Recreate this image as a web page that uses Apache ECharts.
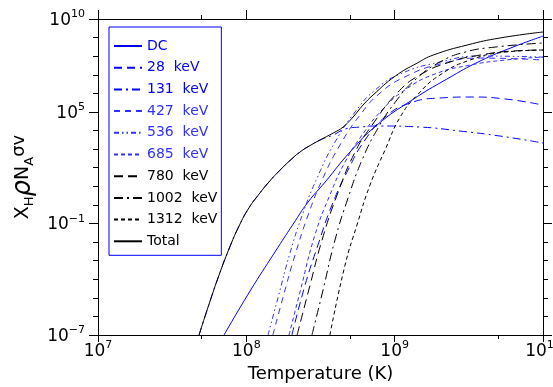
<!DOCTYPE html>
<html>
<head>
<meta charset="utf-8">
<script src="https://cdn.jsdelivr.net/npm/echarts@6/dist/echarts.min.js"></script>
<style>
html, body { margin: 0; padding: 0; background: #fff; }
#chart { width: 553px; height: 387px; }
</style>
</head>
<body>
<div id="chart"></div>
<script>
// temperatures in K, rates as plotted (X_H rho N_A <sigma v>)
const tempDC = [7.07e7, 1.06e8, 1.56e8, 2.07e8, 2.61e8, 3.40e8, 5.00e8, 7.61e8, 1.31e9, 2.25e9, 3.77e9, 6.28e9, 1.0e10]
const rateDC = [1e-7, 2.33e-5, 2.92e-3, 9.35e-2, 1.43, 17.0, 698, 1.98e4, 4.37e5, 5.89e6, 5.49e7, 3.09e8, 1.20e9]

const temp28 = [2.03e8, 2.49e8, 3.04e8, 3.78e8, 4.85e8, 6.31e8, 8.61e8, 1.27e9, 2.02e9, 3.22e9, 5.55e9, 1.0e10]
const rate28 = [1e-7, 4.90e-5, 6.93e-3, 0.984, 75.2, 3090, 5.33e4, 3.01e5, 5.62e5, 6.35e5, 4.99e5, 2.35e5]

const temp131 = [4.80e7, 5.61e7, 6.55e7, 7.64e7, 8.93e7, 1.04e8, 1.22e8, 1.42e8, 1.69e8, 1.97e8, 2.30e8, 2.69e8, 3.14e8, 3.85e8, 4.63e8, 5.84e8, 7.98e8, 1.48e9, 2.76e9, 5.14e9, 1.0e10]
const rate131 = [1e-7, 4.65e-6, 1.69e-4, 4.23e-3, 7.29e-2, 0.679, 3.85, 17.0, 75.2, 244, 698, 1563, 3090, 5730, 1.20e4, 1.54e4, 1.75e4, 1.54e4, 9350, 5040, 2130]

const temp427 = [1.51e8, 1.77e8, 2.13e8, 2.61e8, 3.24e8, 4.28e8, 5.84e8, 7.98e8, 1.17e9, 2.02e9, 3.77e9, 1.0e10]
const rate427 = [1e-7, 1.11e-5, 2.01e-3, 0.285, 21.8, 1660, 6.80e4, 1.05e6, 7.59e6, 3.78e7, 7.94e7, 6.18e7]

const temp536 = [1.40e8, 1.64e8, 1.97e8, 2.41e8, 3.04e8, 3.96e8, 5.41e8, 7.38e8, 1.09e9, 2.02e9, 3.77e9, 1.0e10]
const rate536 = [1e-7, 1.11e-5, 2.58e-3, 0.366, 35.7, 2400, 1.0e5, 1.51e6, 1.10e7, 4.85e7, 1.02e8, 8.94e7]

const temp685 = [1.94e8, 2.30e8, 2.90e8, 3.66e8, 4.63e8, 6.03e8, 8.22e8, 1.17e9, 1.87e9, 3.22e9, 5.55e9, 1.0e10]
const rate685 = [1e-7, 2.06e-5, 2.39e-2, 3.40, 202, 5730, 1.27e5, 1.51e6, 1.10e7, 3.31e7, 6.18e7, 8.94e7]

const temp780 = [2.20e8, 2.69e8, 3.24e8, 4.09e8, 5.41e8, 7.05e8, 1.04e9, 1.48e9, 2.36e9, 3.77e9, 6.28e9, 1.0e10]
const rate780 = [1e-7, 4.90e-5, 1.29e-2, 3.40, 698, 1.98e4, 1.05e6, 9.74e6, 4.85e7, 1.15e8, 1.90e8, 2.14e8]

const temp1002 = [2.77e8, 3.29e8, 3.96e8, 4.85e8, 6.03e8, 7.73e8, 1.01e9, 1.37e9, 2.02e9, 2.98e9, 4.75e9, 1.0e10]
const rate1002 = [1e-7, 2.64e-5, 1.29e-2, 2.34, 259, 1.37e4, 3.39e5, 5.25e6, 4.85e7, 1.66e8, 3.09e8, 5.13e8]

const temp1312 = [3.66e8, 4.63e8, 5.57e8, 6.82e8, 8.61e8, 1.09e9, 1.42e9, 2.02e9, 3.22e9, 5.55e9, 1.0e10]
const rate1312 = [1e-7, 5.82e-4, 8.26e-2, 11.7, 895, 5.33e4, 8.13e5, 9.74e6, 6.18e7, 1.66e8, 2.14e8]

const tempTotal = [4.80e7, 5.61e7, 6.55e7, 7.64e7, 8.93e7, 1.04e8, 1.22e8, 1.42e8, 1.69e8, 1.97e8, 2.30e8, 2.69e8, 3.14e8, 3.85e8, 4.49e8, 5.24e8, 6.12e8, 7.15e8, 1.01e9, 1.42e9, 1.82e9, 3.08e9, 5.14e9, 1.0e10]
const rateTotal = [1e-7, 4.65e-6, 1.69e-4, 4.23e-3, 7.29e-2, 0.679, 3.85, 17.0, 75.2, 244, 698, 1563, 3090, 7350, 1.54e4, 5.33e4, 2.35e5, 8.13e5, 8.51e6, 4.27e7, 1.15e8, 3.98e8, 9.55e8, 2.0e9]

// axis ranges and tick positions (raw values)
const xRange = [1e7, 1e10]
const yRange = [1e-7, 1e10]
const xMajorTicks = [1e7, 1e8, 1e9, 1e10]
const xMinorTicks = [5e7, 5e8, 5e9]
const yLabelTicks = [1e-7, 1e-1, 1e5, 1e10]
const yMinorTicks = [1e-6, 1e-5, 1e-4, 1e-3, 1e-2, 1, 1e1, 1e2, 1e3, 1e4, 1e6, 1e7, 1e8, 1e9]

const FONT = 'DejaVu Sans'
const BLUE = '#0000ff'
const LIGHT_BLUE = '#3030ff'
const BLACK = '#000000'

const curves = [
  { name: 'DC', t: tempDC, r: rateDC, color: BLUE, dash: 'solid' },
  { name: '28  keV', t: temp28, r: rate28, color: BLUE, dash: [8, 5] },
  { name: '131  keV', t: temp131, r: rate131, color: BLUE, dash: [8, 4, 2, 4], z: 1 },
  { name: '427  keV', t: temp427, r: rate427, color: LIGHT_BLUE, dash: [6, 5] },
  { name: '536  keV', t: temp536, r: rate536, color: LIGHT_BLUE, dash: [5, 3, 1.5, 3, 1.5, 3] },
  { name: '685  keV', t: temp685, r: rate685, color: LIGHT_BLUE, dash: [4, 3] },
  { name: '780  keV', t: temp780, r: rate780, color: BLACK, dash: [9, 5] },
  { name: '1002  keV', t: temp1002, r: rate1002, color: BLACK, dash: [9, 4, 2, 4] },
  { name: '1312  keV', t: temp1312, r: rate1312, color: BLACK, dash: [4, 3] },
  { name: 'Total', t: tempTotal, r: rateTotal, color: BLACK, dash: 'solid', z: 4 }
]

const lg = (v) => Math.log10(v)

function expText(v) {
  const e = Math.round(v)
  return e < 0 ? '\u2212' + (-e) : String(e)
}

const tickRich = {
  b: { fontFamily: FONT, fontSize: 17, lineHeight: 20, verticalAlign: 'bottom', color: '#000' },
  s: { fontFamily: FONT, fontSize: 11, lineHeight: 20, verticalAlign: 'top', color: '#000' }
}

function xAxisDef(position, ticks, len, withLabels) {
  return {
    type: 'value',
    position,
    min: lg(xRange[0]),
    max: lg(xRange[1]),
    axisLine: { show: true, onZero: false, lineStyle: { color: '#000', width: 1 } },
    axisTick: { show: true, inside: false, length: len, customValues: ticks.map(lg), lineStyle: { color: '#000', width: 1 } },
    axisLabel: withLabels
      ? {
          show: true,
          margin: 5,
          customValues: ticks.map(lg),
          showMinLabel: true,
          showMaxLabel: true,
          formatter: (v) => '{b|10}{s|' + expText(v) + '}',
          rich: tickRich
        }
      : { show: false },
    splitLine: { show: false }
  }
}

function yAxisDef(position, ticks, len, withLabels) {
  return {
    type: 'value',
    position,
    min: lg(yRange[0]),
    max: lg(yRange[1]),
    axisLine: { show: true, onZero: false, lineStyle: { color: '#000', width: 1 } },
    axisTick: { show: true, inside: false, length: len, customValues: ticks.map(lg), lineStyle: { color: '#000', width: 1 } },
    axisLabel: withLabels
      ? {
          show: true,
          margin: 13,
          customValues: ticks.map(lg),
          showMinLabel: true,
          showMaxLabel: true,
          formatter: (v) => '{b|10}{s|' + expText(v) + '}',
          rich: tickRich
        }
      : { show: false },
    splitLine: { show: false }
  }
}

const xAxes = [
  xAxisDef('bottom', xMajorTicks, 7, true),
  xAxisDef('top', xMajorTicks, 9, false),
  xAxisDef('bottom', xMinorTicks, 4, false),
  xAxisDef('top', xMinorTicks, 4, false)
]
xAxes[0].name = 'Temperature (K)'
xAxes[0].nameLocation = 'middle'
xAxes[0].nameGap = 30
xAxes[0].nameTextStyle = { fontFamily: FONT, fontSize: 18, color: '#000' }

const yAxes = [
  yAxisDef('left', yLabelTicks, 9, true),
  yAxisDef('right', yLabelTicks, 9, false),
  yAxisDef('left', yMinorTicks, 5, false),
  yAxisDef('right', yMinorTicks, 5, false)
]
yAxes[0].name = '{t|X}{sub|H}{rho|\u03c1}{t|N}{sub|A}{sup|\u03c3v}'
yAxes[0].nameLocation = 'middle'
yAxes[0].nameRotate = 90
yAxes[0].nameGap = 50
yAxes[0].nameTextStyle = {
  fontFamily: FONT,
  color: '#000',
  rich: {
    t: { fontFamily: FONT, fontSize: 19, lineHeight: 26, verticalAlign: 'middle', color: '#000' },
    sub: { fontFamily: FONT, fontSize: 13, lineHeight: 26, verticalAlign: 'bottom', color: '#000' },
    rho: { fontFamily: FONT, fontSize: 26, lineHeight: 26, verticalAlign: 'middle', fontStyle: 'italic', color: '#000' },
    sup: { fontFamily: FONT, fontSize: 18, lineHeight: 26, verticalAlign: 'top', color: '#000' }
  }
}

const series = curves.map((c) => ({
  name: c.name,
  type: 'line',
  xAxisIndex: 0,
  yAxisIndex: 0,
  symbol: 'none',
  smooth: 0.5,
  z: c.z || 2,
  clip: true,
  data: c.t.map((t, i) => [lg(t), lg(c.r[i])]),
  lineStyle: { color: c.color, width: 1, type: c.dash },
  itemStyle: { color: c.color },
  emphasis: { disabled: true }
}))

const chart = echarts.init(document.getElementById('chart'), null, { renderer: 'canvas' })
chart.setOption({
  animation: false,
  backgroundColor: '#fff',
  textStyle: { fontFamily: FONT },
  grid: { left: 98, right: 10, top: 19, bottom: 52, containLabel: false, outerBoundsMode: 'none' },
  legend: {
    orient: 'vertical',
    left: 109,
    top: 27,
    padding: [12, 4, 7, 4],
    itemWidth: 28,
    itemHeight: 14,
    itemGap: 7.7,
    selectedMode: false,
    borderColor: BLUE,
    borderWidth: 1,
    backgroundColor: '#fff',
    itemStyle: { opacity: 0, borderWidth: 0 },
    textStyle: { fontFamily: FONT, fontSize: 14, lineHeight: 14 },
    data: curves.map((c) => ({ name: c.name, textStyle: { color: c.color } }))
  },
  xAxis: xAxes,
  yAxis: yAxes,
  series
})
</script>
</body>
</html>
